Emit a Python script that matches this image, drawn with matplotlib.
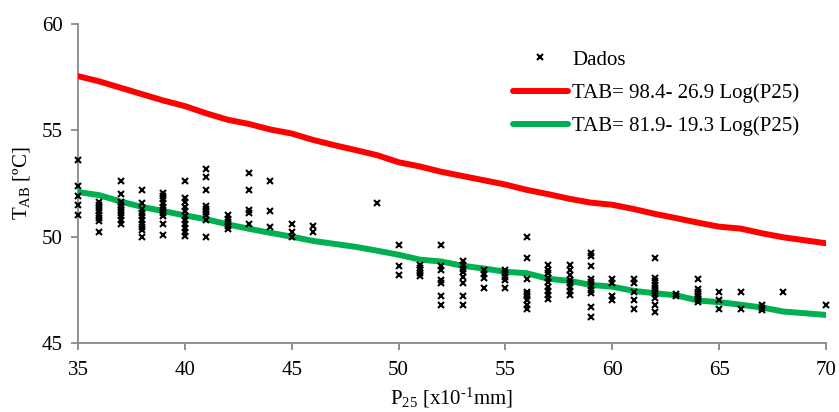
import matplotlib
matplotlib.use("Agg")
import matplotlib.pyplot as plt

plt.rcParams["font.family"] = ["Liberation Serif", "DejaVu Serif"]
plt.rcParams["mathtext.fontset"] = "custom"
plt.rcParams["mathtext.rm"] = "Liberation Serif"
plt.rcParams["mathtext.it"] = "Liberation Serif:italic"

# Observed penetration (P25) and softening point (TAB)
p25_obs = (
    [35] * 5 + [36] * 8 + [37] * 10 + [38] * 10 + [39] * 10 + [40] * 11
    + [41] * 9 + [42] * 5 + [43] * 5 + [44] * 3 + [45] * 3 + [46] * 2
    + [49] * 1 + [50] * 3 + [51] * 5 + [52] * 7 + [53] * 8 + [54] * 4
    + [55] * 5 + [56] * 9 + [57] * 9 + [58] * 8 + [59] * 10 + [60] * 4
    + [61] * 5 + [62] * 10 + [63] * 2 + [64] * 7 + [65] * 3 + [66] * 2
    + [67] * 3 + [68] * 1 + [70] * 1
)
tab_obs = [
    53.6, 52.4, 51.9, 51.5, 51.0,
    51.65, 51.5, 51.35, 51.2, 51.0, 50.9, 50.75, 50.2,
    52.6, 52.0, 51.65, 51.5, 51.4, 51.25, 51.1, 50.95, 50.8, 50.6,
    52.2, 51.6, 51.3, 51.1, 50.95, 50.8, 50.6, 50.45, 50.3, 50.0,
    52.05, 51.9, 51.75, 51.6, 51.4, 51.25, 51.1, 50.95, 50.6, 50.1,
    52.6, 51.8, 51.65, 51.4, 51.2, 50.95, 50.8, 50.6, 50.4, 50.2, 50.05,
    53.2, 52.8, 52.2, 51.45, 51.3, 51.15, 51.0, 50.8, 50.0,
    51.0, 50.85, 50.7, 50.5, 50.35,
    53.0, 52.2, 51.25, 51.1, 50.6,
    52.6, 51.2, 50.45,
    50.6, 50.2, 50.0,
    50.5, 50.2,
    51.6,
    49.6, 48.6, 48.2,
    48.65, 48.55, 48.45, 48.3, 48.15,
    49.6, 48.6, 48.45, 47.95, 47.8, 47.2, 46.8,
    48.85, 48.65, 48.5, 48.35, 48.1, 47.8, 47.2, 46.8,
    48.45, 48.25, 48.05, 47.6,
    48.45, 48.3, 48.1, 47.95, 47.6,
    50.0, 49.0, 48.0, 47.4, 47.3, 47.2, 47.0, 46.8, 46.6,
    48.65, 48.45, 48.3, 48.05, 47.85, 47.65, 47.45, 47.25, 47.05,
    48.65, 48.45, 48.2, 47.95, 47.8, 47.65, 47.45, 47.25,
    49.25, 49.1, 48.6, 48.0, 47.85, 47.7, 47.5, 47.35, 46.7, 46.2,
    48.0, 47.8, 47.2, 47.0,
    48.0, 47.8, 47.4, 47.0, 46.6,
    49.0, 48.05, 47.9, 47.75, 47.6, 47.45, 47.3, 47.1, 46.8, 46.45,
    47.3, 47.2,
    48.0, 47.55, 47.4, 47.3, 47.2, 47.05, 46.95,
    47.4, 47.0, 46.6,
    47.4, 46.6,
    46.8, 46.65, 46.55,
    47.4,
    46.8,
]

# Fitted curves sampled at each P25 value
p25_fit = list(range(35, 71))
tab_upper = [
    57.55, 57.3, 57.0, 56.7, 56.4, 56.14, 55.8, 55.5, 55.3, 55.04,
    54.85, 54.55, 54.3, 54.07, 53.83, 53.5, 53.3, 53.05, 52.85, 52.65,
    52.45, 52.2, 52.0, 51.78, 51.6, 51.5, 51.3, 51.07, 50.87, 50.66,
    50.47, 50.38, 50.16, 49.97, 49.83, 49.69,
]
tab_lower = [
    52.1, 51.95, 51.65, 51.4, 51.2, 51.0, 50.82, 50.58, 50.37, 50.18,
    50.0, 49.8, 49.66, 49.52, 49.34, 49.15, 48.92, 48.83, 48.63, 48.5,
    48.35, 48.28, 48.02, 47.92, 47.73, 47.65, 47.45, 47.34, 47.24, 47.0,
    46.92, 46.8, 46.67, 46.48, 46.4, 46.32,
]
label_upper = "TAB= 98.4- 26.9 Log(P25)"
label_lower = "TAB= 81.9- 19.3 Log(P25)"

fs = 15

fig = plt.figure(figsize=(8.39, 4.12), dpi=100)
ax = fig.add_axes([78 / 839, 1 - 343 / 412, 748 / 839, 319 / 412])

ax.plot(p25_obs, tab_obs, linestyle="none", marker="x", color="black",
        markersize=4.5, markeredgewidth=1.5, label="Dados", zorder=4,
        clip_on=False)
ax.plot(p25_fit, tab_upper, color="#FF0000", linewidth=4.3,
        solid_capstyle="round", label=label_upper, zorder=3)
ax.plot(p25_fit, tab_lower, color="#00B050", linewidth=4.3,
        solid_capstyle="round", label=label_lower, zorder=3)

ax.set_xlim(35, 70)
ax.set_ylim(45, 60)
ax.set_xticks(range(35, 71, 5))
ax.set_yticks(range(45, 61, 5))

grey = "#898989"
for side in ("top", "right"):
    ax.spines[side].set_visible(False)
for side in ("left", "bottom"):
    ax.spines[side].set_color(grey)
    ax.spines[side].set_linewidth(1.3)
ax.tick_params(axis="both", direction="out", length=5, width=1.3,
               color=grey, labelsize=fs, labelcolor="black")
ax.tick_params(axis="x", pad=8)
ax.tick_params(axis="y", pad=6)

ax.set_xlabel("P$_{\\mathregular{25}}$ [x10$^{\\mathregular{\u2010}\\mathregular{1}}$mm]",
              fontsize=fs, labelpad=4)
ax.set_ylabel(r"T$_{\mathregular{AB}}$ [ºC]", fontsize=fs, labelpad=7)

leg = ax.legend(loc="upper left", bbox_to_anchor=(0.5815, 0.918),
                frameon=False, fontsize=fs, handlelength=2.64,
                handletextpad=0.2, labelspacing=0.64, borderaxespad=0,
                borderpad=0)

fig.savefig("out.png", dpi=100)
